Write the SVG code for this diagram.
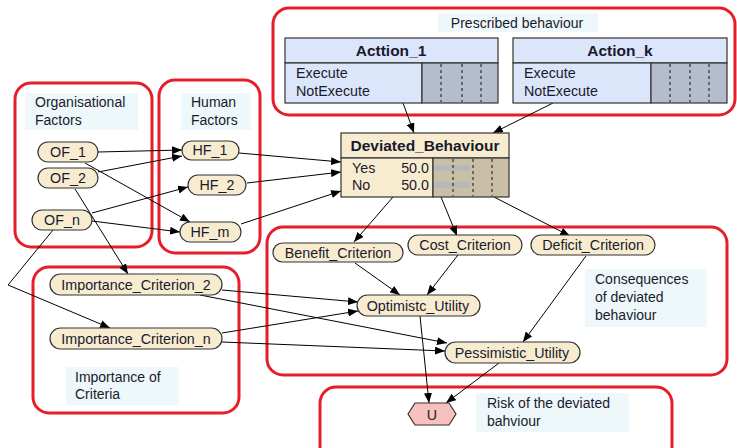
<svg xmlns="http://www.w3.org/2000/svg" width="737" height="448" viewBox="0 0 737 448">
<defs>
<marker id="ah" viewBox="0 0 10 8" refX="10" refY="4" markerWidth="10" markerHeight="8" markerUnits="userSpaceOnUse" orient="auto">
<path d="M0,0 L10,4 L0,8 z" fill="#000"/>
</marker>
<style>
.grp{fill:none;stroke:#e61e2a;stroke-width:3}
.lbl{fill:#eef8fa}
.t{font-family:"Liberation Sans",Arial,sans-serif;font-size:14.3px;fill:#1a1a2e}
.tl{font-size:14px}
.tc{text-anchor:middle}
.b{font-weight:bold;font-size:15.5px}
.pill{fill:#f8ecd0;stroke:#333;stroke-width:1.2}
.c{fill:none;stroke:#000;stroke-width:1;marker-end:url(#ah)}
.dash{stroke:#111;stroke-width:1;stroke-dasharray:3,3}
</style>
</defs>
<rect width="737" height="448" fill="#fff"/>

<!-- group boxes -->
<g id="groups">
<rect class="grp" x="273" y="8" width="462" height="107" rx="16"/>
<rect class="grp" x="15" y="83" width="137" height="164" rx="16"/>
<rect class="grp" x="159" y="80" width="101" height="173" rx="16"/>
<rect class="grp" x="33" y="267" width="206" height="146" rx="16"/>
<rect class="grp" x="267" y="227" width="460" height="148" rx="16"/>
<rect class="grp" x="320" y="387" width="352" height="75" rx="16"/>
</g>

<g id="labels">
<rect class="lbl" x="438" y="13" width="160" height="19"/>
<text class="t tl tc" x="517" y="28">Prescribed behaviour</text>
<rect class="lbl" x="25" y="93" width="113" height="37"/>
<text class="t tl" x="35" y="107">Organisational</text>
<text class="t tl" x="35" y="125">Factors</text>
<rect class="lbl" x="181" y="93" width="70" height="37"/>
<text class="t tl" x="191" y="107">Human</text>
<text class="t tl" x="191" y="125">Factors</text>
<rect class="lbl" x="66" y="367" width="113" height="38"/>
<text class="t tl" x="75" y="382">Importance of</text>
<text class="t tl" x="75" y="399">Criteria</text>
<rect class="lbl" x="585" y="269" width="122" height="58"/>
<text class="t tl" x="595" y="284">Consequences</text>
<text class="t tl" x="595" y="302">of deviated</text>
<text class="t tl" x="595" y="320">behaviour</text>
<rect class="lbl" x="476" y="393" width="153" height="39"/>
<text class="t tl" x="487" y="408">Risk of the deviated</text>
<text class="t tl" x="487" y="426">bahviour</text>
</g>

<!-- connectors -->
<g id="connectors">
<line class="c" x1="403" y1="103" x2="414" y2="133"/>
<line class="c" x1="553" y1="103" x2="493" y2="133"/>
<line class="c" x1="98" y1="152" x2="182" y2="150"/>
<line class="c" x1="98" y1="172" x2="182" y2="156"/>
<line class="c" x1="85" y1="163" x2="190" y2="222"/>
<line class="c" x1="75" y1="189" x2="128" y2="274"/>
<line class="c" x1="92" y1="213" x2="188" y2="187"/>
<line class="c" x1="92" y1="221" x2="180" y2="232"/>
<polyline class="c" points="53,230 8,285 110,328"/>
<line class="c" x1="239" y1="153" x2="341" y2="162"/>
<line class="c" x1="247" y1="183" x2="341" y2="172"/>
<line class="c" x1="241" y1="224" x2="341" y2="191"/>
<line class="c" x1="393" y1="197" x2="354" y2="242"/>
<line class="c" x1="441" y1="197" x2="457" y2="236"/>
<line class="c" x1="494" y1="197" x2="570" y2="236"/>
<line class="c" x1="355" y1="263" x2="400" y2="295"/>
<line class="c" x1="458" y1="255" x2="427" y2="295"/>
<line class="c" x1="586" y1="256" x2="523" y2="342"/>
<line class="c" x1="222" y1="290" x2="358" y2="302"/>
<line class="c" x1="200" y1="295" x2="447" y2="343"/>
<line class="c" x1="222" y1="333" x2="358" y2="311"/>
<line class="c" x1="222" y1="342" x2="445" y2="351"/>
<line class="c" x1="420" y1="316" x2="429" y2="403"/>
<line class="c" x1="499" y1="363" x2="446" y2="403"/>
</g>

<!-- table nodes -->
<g id="Acttion_1">
<rect x="285" y="38" width="213" height="25" fill="#dce6fa" stroke="#333" stroke-width="1.2"/>
<rect x="285" y="63" width="137" height="40" fill="#dce6fa" stroke="#333" stroke-width="1.2"/>
<rect x="422" y="63" width="76" height="40" fill="#b4bcce" stroke="#333" stroke-width="1.2"/>
<line class="dash" x1="441" y1="64" x2="441" y2="102"/>
<line class="dash" x1="462" y1="64" x2="462" y2="102"/>
<line class="dash" x1="481" y1="64" x2="481" y2="102"/>
<text class="t tc b" x="391" y="56">Acttion_1</text>
<text class="t" x="296" y="78">Execute</text>
<text class="t" x="296" y="96">NotExecute</text>
</g>
<g id="Action_k">
<rect x="513" y="38" width="214" height="25" fill="#dce6fa" stroke="#333" stroke-width="1.2"/>
<rect x="513" y="63" width="138" height="40" fill="#dce6fa" stroke="#333" stroke-width="1.2"/>
<rect x="651" y="63" width="76" height="40" fill="#b4bcce" stroke="#333" stroke-width="1.2"/>
<line class="dash" x1="670" y1="64" x2="670" y2="102"/>
<line class="dash" x1="690" y1="64" x2="690" y2="102"/>
<line class="dash" x1="709" y1="64" x2="709" y2="102"/>
<text class="t tc b" x="620" y="56">Action_k</text>
<text class="t" x="524" y="78">Execute</text>
<text class="t" x="524" y="96">NotExecute</text>
</g>
<g id="Deviated_Behaviour">
<rect x="341" y="133" width="168" height="25" fill="#f8ecd0" stroke="#333" stroke-width="1.2"/>
<rect x="341" y="158" width="92" height="39" fill="#f8ecd0" stroke="#333" stroke-width="1.2"/>
<rect x="433" y="158" width="76" height="39" fill="#c8bfa6" stroke="#333" stroke-width="1.2"/>
<rect x="434" y="165" width="36" height="6" fill="#b8b8b8"/>
<rect x="434" y="182" width="36" height="6" fill="#b8b8b8"/>
<line class="dash" x1="453" y1="159" x2="453" y2="196"/>
<line class="dash" x1="473" y1="159" x2="473" y2="196"/>
<line class="dash" x1="492" y1="159" x2="492" y2="196"/>
<text class="t tc b" x="425" y="151">Deviated_Behaviour</text>
<text class="t" x="352" y="173">Yes</text>
<text class="t" x="352" y="190">No</text>
<text class="t" x="429" y="173" text-anchor="end">50.0</text>
<text class="t" x="429" y="190" text-anchor="end">50.0</text>
</g>

<!-- pill nodes -->
<g id="OF_1"><rect class="pill" x="38" y="142" width="60" height="20" rx="10"/><text class="t tc" x="68" y="157">OF_1</text></g>
<g id="OF_2"><rect class="pill" x="38" y="168" width="60" height="20" rx="10"/><text class="t tc" x="68" y="183">OF_2</text></g>
<g id="OF_n"><rect class="pill" x="32" y="210" width="60" height="20" rx="10"/><text class="t tc" x="62" y="225">OF_n</text></g>
<g id="HF_1"><rect class="pill" x="182" y="141" width="57" height="19" rx="9.5"/><text class="t tc" x="210" y="155">HF_1</text></g>
<g id="HF_2"><rect class="pill" x="188" y="175" width="58" height="20" rx="10"/><text class="t tc" x="217" y="190">HF_2</text></g>
<g id="HF_m"><rect class="pill" x="180" y="222" width="61" height="20" rx="10"/><text class="t tc" x="210" y="237">HF_m</text></g>
<g id="Importance_Criterion_2"><rect class="pill" x="50" y="274" width="172" height="21" rx="10.5"/><text class="t tc" x="136" y="289.5">Importance_Criterion_2</text></g>
<g id="Importance_Criterion_n"><rect class="pill" x="50" y="328" width="172" height="21" rx="10.5"/><text class="t tc" x="136" y="343.5">Importance_Criterion_n</text></g>
<g id="Benefit_Criterion"><rect class="pill" x="273" y="243" width="130" height="19" rx="9.5"/><text class="t tc" x="338" y="257.5">Benefit_Criterion</text></g>
<g id="Cost_Criterion"><rect class="pill" x="408" y="235" width="114" height="20" rx="10"/><text class="t tc" x="465" y="250">Cost_Criterion</text></g>
<g id="Deficit_Criterion"><rect class="pill" x="531" y="235" width="124" height="20" rx="10"/><text class="t tc" x="593" y="250">Deficit_Criterion</text></g>
<g id="Optimistc_Utility"><rect class="pill" x="357" y="295" width="123" height="21" rx="10.5"/><text class="t tc" x="418" y="310.5">Optimistc_Utility</text></g>
<g id="Pessimistic_Utility"><rect class="pill" x="445" y="342" width="135" height="21" rx="10.5"/><text class="t tc" x="512" y="357.5">Pessimistic_Utility</text></g>
<g id="U"><polygon points="408,414 415,403 449,403 456,414 449,425 415,425" fill="#f9c0c0" stroke="#333" stroke-width="1.2"/><text class="t tc" x="432" y="419.5">U</text></g>
</svg>
